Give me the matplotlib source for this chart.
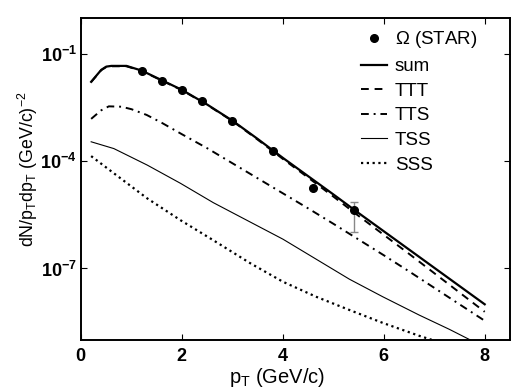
import matplotlib
matplotlib.use("Agg")
import matplotlib.pyplot as plt
import numpy as np

plt.rcParams["font.family"] = ["Liberation Sans", "DejaVu Sans"]
plt.rcParams["mathtext.fontset"] = "custom"
plt.rcParams["mathtext.rm"] = "Liberation Sans"
plt.rcParams["mathtext.it"] = "Liberation Sans:italic"
plt.rcParams["mathtext.bf"] = "Liberation Sans:bold"

# STAR Omega data (pT, log10 yield), error bar only on last point
star_pt = [1.2, 1.6, 2.0, 2.4, 3.0, 3.8, 4.6, 5.4]
star_log = [-1.48, -1.76, -2.00, -2.32, -2.87, -3.71, -4.76, -5.37]
star_err_lo = [0, 0, 0, 0, 0, 0, 0, -5.97]
star_err_hi = [0, 0, 0, 0, 0, 0, 0, -5.14]

# model curves, log10 of dN/pTdpT
pt_a = [0.2, 0.4, 0.5, 0.6, 0.9, 1.2, 1.6, 2.0, 2.5, 3.0, 3.5, 4.0, 4.5,
        5.0, 5.5, 6.0, 6.5, 7.0, 7.5, 8.0]
sum_log = [-1.785, -1.45, -1.36, -1.34, -1.34, -1.47, -1.74, -2.01, -2.42,
           -2.87, -3.38, -3.91, -4.42, -4.93, -5.45, -5.96, -6.47, -6.98,
           -7.49, -8.00]
ttt_log = [-1.79, -1.46, -1.37, -1.35, -1.35, -1.48, -1.75, -2.02, -2.43,
           -2.88, -3.40, -3.94, -4.46, -4.99, -5.53, -6.06, -6.59, -7.13,
           -7.67, -8.21]

pt_b = [0.2, 0.4, 0.55, 0.8, 1.0, 1.3, 1.6, 2.0, 2.5, 3.0, 3.5, 4.0, 4.5,
        5.0, 5.5, 6.0, 6.5, 7.0, 7.5, 8.0]
tts_log = [-2.82, -2.58, -2.47, -2.48, -2.55, -2.71, -2.93, -3.25, -3.64,
           -4.06, -4.48, -4.90, -5.32, -5.75, -6.19, -6.63, -7.08, -7.54,
           -8.00, -8.46]

pt_c = [0.2, 0.65, 1.31, 1.97, 2.62, 3.35, 4.0, 4.66, 5.32, 5.98, 6.7,
        7.3, 7.72, 8.0]
tss_log = [-3.46, -3.65, -4.11, -4.62, -5.16, -5.70, -6.18, -6.74, -7.30,
           -7.79, -8.30, -8.70, -9.00, -9.20]
sss_log = [-3.86, -4.34, -5.04, -5.65, -6.21, -6.85, -7.37, -7.79, -8.16,
           -8.52, -8.88, -9.15, -9.35, -9.50]

fig = plt.figure(figsize=(5.23, 3.90), dpi=100)
ax = fig.add_axes([0.155, 0.128, 0.82, 0.826])

star_y = np.power(10.0, star_log)
yerr_lo = [y - 10 ** e if e else 0 for y, e in zip(star_y, star_err_lo)]
yerr_hi = [10 ** e - y if e else 0 for y, e in zip(star_y, star_err_hi)]

ax.errorbar(star_pt[-1:], star_y[-1:], yerr=[yerr_lo[-1:], yerr_hi[-1:]],
            fmt="none", ecolor="#888888", elinewidth=1, capsize=3)
ax.plot(star_pt, star_y, "o", color="k", ms=5.5, label=r"$\Omega$ (STAR)")
ax.plot(pt_a, np.power(10.0, sum_log), "-", color="k", lw=1.6, label="sum")
ax.plot(pt_a, np.power(10.0, ttt_log), "--", color="k", lw=1.4,
        dashes=(4, 3), label="TTT")
ax.plot(pt_b, np.power(10.0, tts_log), "-.", color="k", lw=1.4,
        dashes=(4, 2.5, 1, 2.5), label="TTS")
ax.plot(pt_c, np.power(10.0, tss_log), "-", color="k", lw=0.8, label="TSS")
ax.plot(pt_c, np.power(10.0, sss_log), ":", color="k", lw=1.6,
        dashes=(1, 1.6), label="SSS")

ax.set_yscale("log")
ax.set_xlim(0, 8.5)
ax.set_ylim(1e-9, 1)
ax.set_xticks([0, 2, 4, 6, 8])
ax.set_xticklabels([r"$\mathbf{%d}$" % v for v in [0, 2, 4, 6, 8]])
ax.set_yticks([1e-7, 1e-4, 1e-1])
ax.set_yticklabels([r"$\mathbf{10^{-7}}$", r"$\mathbf{10^{-4}}$",
                    r"$\mathbf{10^{-1}}$"])
ax.yaxis.set_minor_locator(matplotlib.ticker.NullLocator())
ax.tick_params(which="both", direction="in", top=True, right=True,
               labelsize=13, length=4, width=0.8)
ax.tick_params(axis="x", pad=6)
ax.tick_params(axis="y", pad=3)
for s in ax.spines.values():
    s.set_linewidth(1.4)

ax.set_xlabel(r"p$_\mathrm{T}$ (GeV/c)", fontsize=14.5)
ax.xaxis.set_label_coords(0.457, -0.081)
ax.set_ylabel(r"dN/p$_\mathrm{T}$dp$_\mathrm{T}$ (GeV/c)$^{-2}$",
              fontsize=12.8)
ax.yaxis.set_label_coords(-0.095, 0.53)

ax.legend(loc="upper right", bbox_to_anchor=(0.955, 1.005), frameon=False,
          fontsize=13.5, handlelength=1.4, handletextpad=0.4,
          labelspacing=0.4, borderpad=0.2)

fig.savefig("out.png", dpi=100)
